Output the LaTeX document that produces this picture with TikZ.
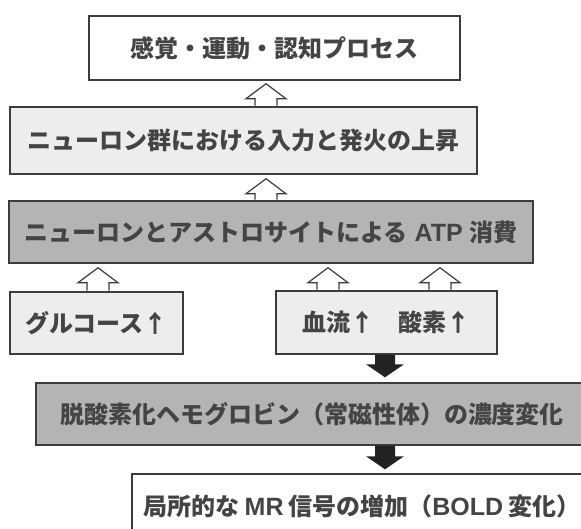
\documentclass[tikz,border=0pt]{standalone}
\usepackage{fontspec}
\setmainfont{Noto Sans CJK JP}
\newfontfamily\latinf{Liberation Sans}
\usetikzlibrary{calc}
\definecolor{boxline}{HTML}{3C3C3C}
\definecolor{txt}{HTML}{444444}
\definecolor{lightfill}{HTML}{EDEDED}
\definecolor{darkfill}{HTML}{B4B4B4}
\definecolor{arrline}{HTML}{3A3A3A}
\definecolor{blk}{HTML}{222222}
\newcommand\lat[1]{{\latinf\fontsize{25}{28}\selectfont #1}}
\tikzset{
  box/.style={draw=boxline, line width=1.4pt, inner sep=0pt, text=txt,
    font=\bfseries\fontsize{24}{28}\selectfont, anchor=center},
  harrow/.style={draw=arrline, fill=white, line width=1.2pt, line join=miter},
  barrow/.style={fill=blk, draw=none}
}
\newcommand\hollowarr[2]{\path[harrow] let \p1=#1, \p2=#2 in
  (\x1-11pt,\y1+0.7pt) -- (\x1-11pt,\y2-15pt) -- (\x1-20pt,\y2-15pt) -- (\x1,\y2)
  -- (\x1+20pt,\y2-15pt) -- (\x1+11pt,\y2-15pt) -- (\x1+11pt,\y1+0.7pt);}
\newcommand\blackarr[2]{\path[barrow] let \p1=#1, \p2=#2 in
  (\x1-10pt,\y1) -- (\x1-10pt,\y2+13pt) -- (\x1-19pt,\y2+13pt) -- (\x1,\y2)
  -- (\x1+19pt,\y2+13pt) -- (\x1+10pt,\y2+13pt) -- (\x1+10pt,\y1) -- cycle;}
\begin{document}
\begin{tikzpicture}[x=1pt,y=1pt]
\clip (0,0) rectangle (581,529);
\fill[white] (0,0) rectangle (581,529);
% boxes
\node[box, fill=white, minimum width=371, minimum height=64] (b1) at (274.5,481) {感覚・運動・認知プロセス};
\node[box, fill=lightfill, minimum width=467, minimum height=67] (b2) at (243.5,388.5) {ニューロン群における入力と発火の上昇};
\node[box, fill=darkfill, minimum width=524, minimum height=62] (atp) at (271,297) {ニューロンとアストロサイトによる\hspace{0.3em}\lat{ATP}\hspace{0.3em}消費};
\node[box, fill=lightfill, minimum width=173, minimum height=62] (glu) at (96.5,206) {グルコース↑};
\node[box, fill=lightfill, minimum width=221, minimum height=63] (blood) at (386.5,206.5) {血流↑　酸素↑};
\node[box, fill=darkfill, minimum width=552, minimum height=62] (b5) at (312,115) {脱酸素化ヘモグロビン（常磁性体）の濃度変化};
\node[box, fill=white, minimum width=460, minimum height=64] (b6) at (362,23) {局所的な\hspace{0.2em}\lat{MR}\hspace{0.2em}信号の増加（\lat{BOLD}\hspace{0.2em}変化）};
% arrow columns
\coordinate (c266) at (266,0);
\coordinate (c98) at (98,0);
\coordinate (c328) at (328,0);
\coordinate (c440) at (440,0);
\coordinate (c385) at (385,0);
% hollow arrows
\hollowarr{(c266 |- b2.north)}{($(c266 |- b1.south)+(0,-3)$)}
\hollowarr{(c266 |- atp.north)}{($(c266 |- b2.south)+(0,-4)$)}
\hollowarr{(c98 |- glu.north)}{($(c98 |- atp.south)+(0,-4)$)}
\hollowarr{(c328 |- blood.north)}{($(c328 |- atp.south)+(0,-4)$)}
\hollowarr{(c440 |- blood.north)}{($(c440 |- atp.south)+(0,-4)$)}
% black arrows
\blackarr{(c385 |- blood.south)}{($(c385 |- b5.north)+(0,5)$)}
\blackarr{(c385 |- b5.south)}{($(c385 |- b6.north)+(0,4)$)}
\end{tikzpicture}
\end{document}
